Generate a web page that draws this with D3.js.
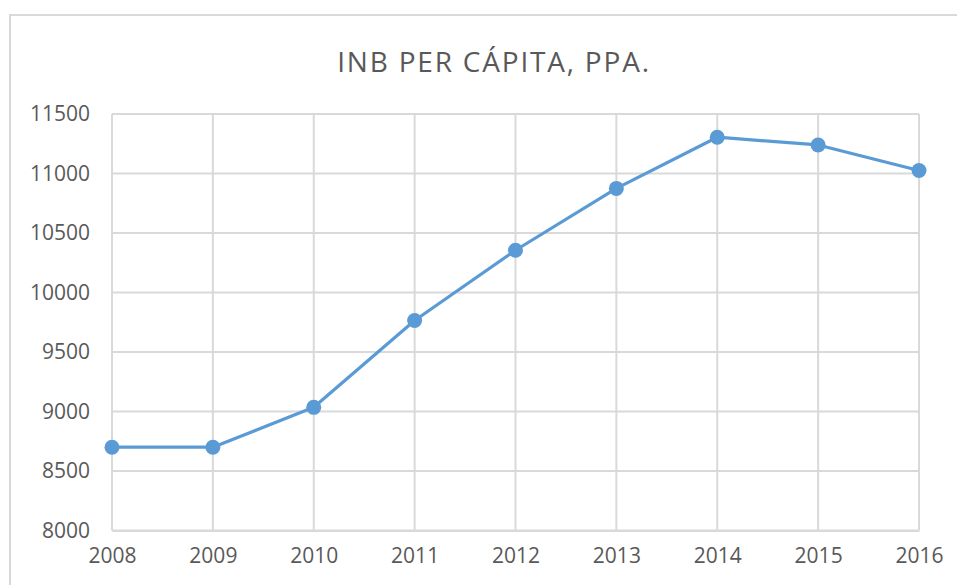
<!DOCTYPE html>
<html>
<head>
<meta charset="utf-8">
<script src="https://cdn.jsdelivr.net/npm/d3@7"></script>
<style>
  html, body { margin: 0; padding: 0; background: #fff; }
  svg { display: block; }
</style>
</head>
<body>
<svg id="chart"></svg>
<script>
// data
const years = ["2008", "2009", "2010", "2011", "2012", "2013", "2014", "2015", "2016"];
const inb = [8700, 8700, 9035, 9765, 10355, 10875, 11305, 11240, 11025];
const yTicks = [8000, 8500, 9000, 9500, 10000, 10500, 11000, 11500];
const title = "INB PER CÁPITA, PPA.";

const width = 957;
const height = 585;

const svg = d3.select("#chart")
  .attr("width", width)
  .attr("height", height);

// chart area border (runs off right and bottom)
svg.append("rect")
  .attr("x", 10)
  .attr("y", 15)
  .attr("width", 1000)
  .attr("height", 620)
  .attr("fill", "#fff")
  .attr("stroke", "#d9d9d9")
  .attr("stroke-width", 2);

const x = d3.scalePoint()
  .domain(years)
  .range([112, 919]);

const y = d3.scaleLinear()
  .domain([8000, 11500])
  .range([530.5, 114]);

const textColor = "#595959";
const font = "'Open Sans', 'DejaVu Sans', sans-serif";

svg.append("text")
  .attr("x", 494)
  .attr("y", 72)
  .attr("text-anchor", "middle")
  .style("font-family", font)
  .style("font-size", "28px")
  .style("letter-spacing", "1.8px")
  .style("fill", textColor)
  .text(title);

// horizontal gridlines
svg.append("g")
  .selectAll("line")
  .data(yTicks)
  .join("line")
    .attr("x1", x.range()[0])
    .attr("x2", x.range()[1])
    .attr("y1", d => y(d))
    .attr("y2", d => y(d))
    .attr("stroke", "#d9d9d9")
    .attr("stroke-width", 2);

// vertical gridlines
svg.append("g")
  .selectAll("line")
  .data(years)
  .join("line")
    .attr("x1", d => x(d))
    .attr("x2", d => x(d))
    .attr("y1", y(11500))
    .attr("y2", y(8000))
    .attr("stroke", "#d9d9d9")
    .attr("stroke-width", 2);

// y axis labels
const yAxis = svg.append("g")
  .attr("transform", "translate(" + x.range()[0] + ",0)")
  .call(d3.axisLeft(y).tickValues(yTicks).tickSize(0).tickPadding(22).tickFormat(d3.format("d")));
yAxis.select(".domain").remove();
yAxis.selectAll("text")
  .style("font-family", font)
  .style("font-size", "21px")
  .style("fill", textColor);

// x axis labels
const xAxis = svg.append("g")
  .attr("transform", "translate(0," + y(8000) + ")")
  .call(d3.axisBottom(x).tickSize(0).tickPadding(18));
xAxis.select(".domain")
  .attr("stroke", "#d9d9d9")
  .attr("stroke-width", 2);
xAxis.selectAll("text")
  .style("font-family", font)
  .style("font-size", "21px")
  .style("fill", textColor);

const blue = "#5b9bd5";

const line = d3.line()
  .x((d, i) => x(years[i]))
  .y(d => y(d));

svg.append("path")
  .datum(inb)
  .attr("d", line)
  .attr("fill", "none")
  .attr("stroke", blue)
  .attr("stroke-width", 3.2)
  .attr("stroke-linejoin", "round");

svg.append("g")
  .selectAll("circle")
  .data(inb)
  .join("circle")
    .attr("cx", (d, i) => x(years[i]))
    .attr("cy", d => y(d))
    .attr("r", 7.5)
    .attr("fill", blue);
</script>
</body>
</html>
